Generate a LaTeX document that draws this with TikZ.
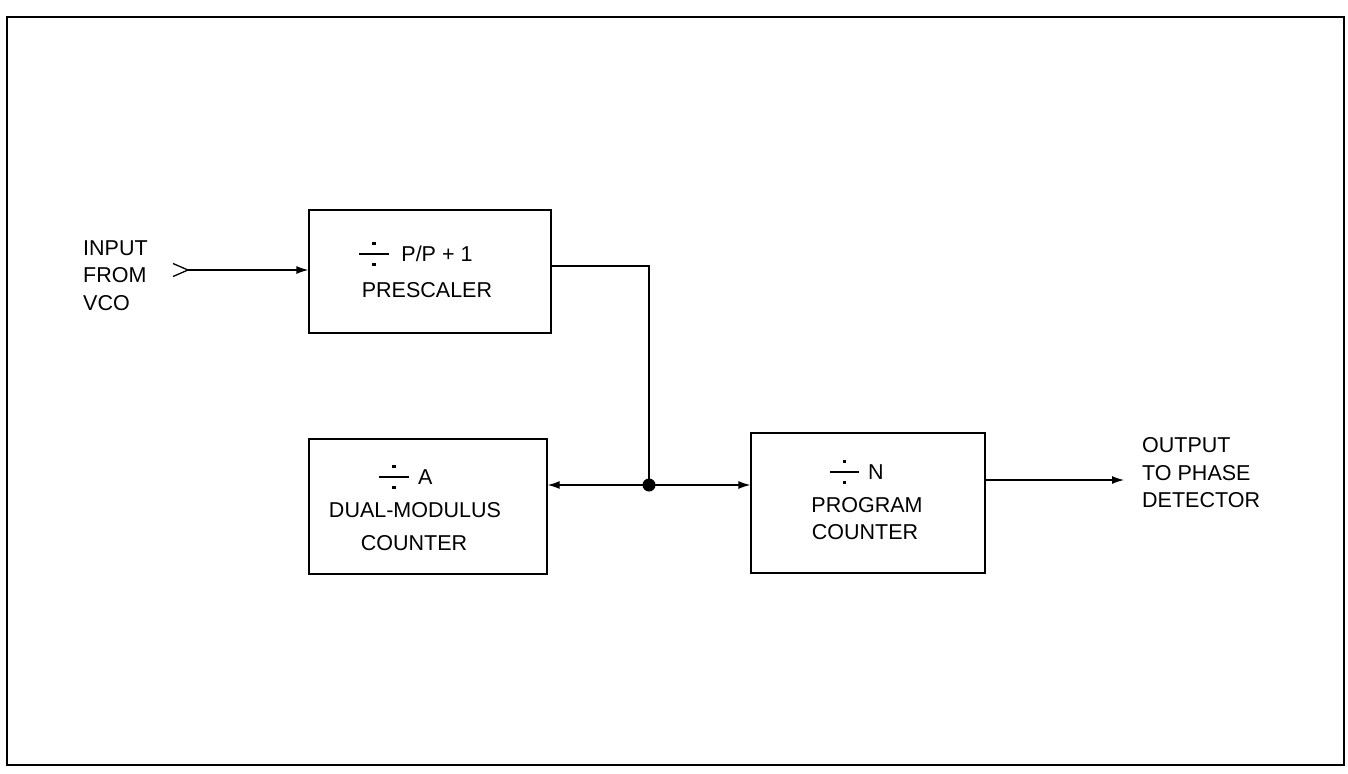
\documentclass[tikz,border=0pt]{standalone}
\usepackage{fontspec}
\setmainfont{Liberation Sans}
\usetikzlibrary{arrows.meta}
\newcommand{\dotsq}{\rule{0.14em}{0.14em}}
\newcommand{\dvd}{\ooalign{\rule[0.33em]{1.35em}{0.07em}\cr\hfil\raisebox{0.78em}{\dotsq}\hfil\cr\hfil\raisebox{-0.19em}{\dotsq}\hfil}}
\begin{document}
\begin{tikzpicture}[x=1pt,y=-1pt,
  blk/.style={draw,line width=1.3pt},
  lbl/.style={font=\fontsize{21.5}{27.5}\selectfont,inner sep=0pt,anchor=base},
  side/.style={font=\fontsize{21.5}{27.5}\selectfont,inner sep=0pt,align=left,anchor=north west},
  conn/.style={line width=1.3pt},
  arr/.style={line width=1.3pt,-{Latex[length=12pt,width=8pt]}}]
\useasboundingbox (0,0) rectangle (1348,773);
\draw[line width=2pt] (7,17) rectangle (1344,765);
% blocks
\node[blk,minimum width=242pt,minimum height=123pt] (pre) at (430,271.5) {};
\node[blk,minimum width=238pt,minimum height=135pt] (dual) at (428,506.5) {};
\node[blk,minimum width=234pt,minimum height=140pt] (prog) at (868,503) {};
% texts in blocks
\node[lbl] (preA) at (416,261.7) {\dvd\hspace{0.6em}P/P + 1};
\node[lbl] (preB) at (427,297.7) {PRESCALER};
\node[lbl] (dualA) at (406,484.7) {\dvd\hspace{0.45em}A};
\node[lbl] (dualB) at (415,517.7) {DUAL-MODULUS};
\node[lbl] (dualC) at (414,550.7) {COUNTER};
\node[lbl] (progA) at (857,479.7) {\dvd\hspace{0.4em}N};
\node[lbl] (progB) at (867,512.7) {PROGRAM};
\node[lbl] (progC) at (865,539.7) {COUNTER};
% side texts
\node[side] (inp) at (83,240.3) {INPUT\\FROM\\VCO};
\node[side] (outp) at (1142,437.3) {OUTPUT\\TO PHASE\\DETECTOR};
% input symbol
\coordinate (inA) at (173,263.5);
\coordinate (inB) at (188,270);
\coordinate (inC) at (173,276.5);
\draw[conn] (inA) -- (inB) -- (inC);
\draw[arr] (inB) -- (pre.west |- inB);
% junction
\coordinate (jn) at (649,485);
\coordinate (corner) at (649,266);
\draw[conn] (pre.east |- corner) -- (corner) -- (jn);
\fill (jn) circle (6.5pt);
\draw[arr] (jn) -- (dual.east |- jn);
\draw[arr] (jn) -- (prog.west |- jn);
% output
\coordinate (outEnd) at (1124,480);
\draw[arr] (prog.east |- outEnd) -- (outEnd);
\end{tikzpicture}
\end{document}
